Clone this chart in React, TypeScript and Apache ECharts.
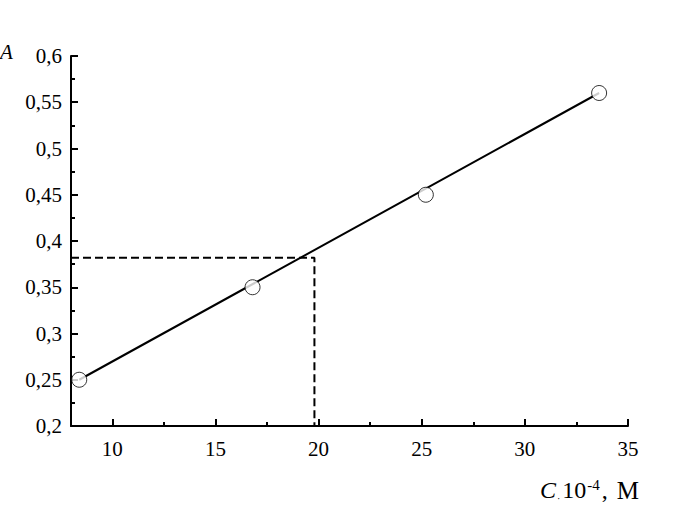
import React, { useEffect, useRef } from "react";
import * as echarts from "echarts";

const concentrations = [8.4, 16.8, 25.2, 33.6];
const absorbances = [0.25, 0.35, 0.45, 0.56];
const fitLine = [
  [8.4, 0.25],
  [33.6, 0.56],
];
const sampleX = 19.8;
const sampleA = 0.382;
const xMajorTicks = [10, 15, 20, 25, 30, 35];
const xMinorTicks = [12.5, 17.5, 22.5, 27.5, 32.5];

const FONT = "'Liberation Serif', 'DejaVu Serif', serif";

export default function App() {
  const ref = useRef<HTMLDivElement>(null);
  useEffect(() => {
    const chart = echarts.init(ref.current!, null, { renderer: "svg" });
    const axisCommon = {
      type: "value" as const,
      min: 8,
      max: 35,
    };
    chart.setOption({
      animation: false,
      backgroundColor: "#fff",
      grid: { left: 71, top: 56, right: 57, bottom: 83, containLabel: false },
      xAxis: [
        {
          ...axisCommon,
          axisLine: { show: true, onZero: false, lineStyle: { color: "#000", width: 2 } },
          axisTick: {
            show: true,
            inside: true,
            length: 7,
            customValues: xMajorTicks,
            lineStyle: { color: "#000", width: 2 },
          },
          axisLabel: {
            show: true,
            customValues: xMajorTicks,
            color: "#000",
            fontFamily: FONT,
            fontSize: 21,
            margin: 12,
          },
          splitLine: { show: false },
        },
        {
          ...axisCommon,
          position: "bottom",
          axisLine: { show: false },
          axisTick: {
            show: true,
            inside: true,
            length: 4,
            customValues: xMinorTicks,
            lineStyle: { color: "#000", width: 2 },
          },
          axisLabel: { show: false },
          splitLine: { show: false },
        },
      ],
      yAxis: {
        type: "value",
        min: 0.2,
        max: 0.6,
        interval: 0.05,
        axisLine: { show: true, onZero: false, lineStyle: { color: "#000", width: 2 } },
        axisTick: { show: true, inside: true, length: 7, lineStyle: { color: "#000", width: 2 } },
        minorTick: { show: true, splitNumber: 2, length: 4, lineStyle: { color: "#000", width: 2 } },
        axisLabel: {
          color: "#000",
          fontFamily: FONT,
          fontSize: 21,
          margin: 9,
          formatter: (v: number) => String(+v.toFixed(2)).replace(".", ","),
        },
        splitLine: { show: false },
      },
      series: [
        {
          type: "line",
          data: [
            [8, sampleA],
            [sampleX, sampleA],
            [sampleX, 0.2],
          ],
          showSymbol: false,
          symbol: "none",
          lineStyle: { color: "#000", width: 2, type: [8, 4] },
          z: 1,
        },
        {
          type: "line",
          data: fitLine,
          showSymbol: false,
          symbol: "none",
          lineStyle: { color: "#000", width: 2 },
          z: 2,
        },
        {
          type: "scatter",
          data: concentrations.map((c, i) => [c, absorbances[i]]),
          symbol: "circle",
          symbolSize: 15,
          itemStyle: { color: "#fff", borderColor: "#000", borderWidth: 1 },
          z: 3,
        },
      ],
      graphic: [
        {
          type: "text",
          left: 0,
          top: 41,
          style: {
            text: "A",
            fontFamily: FONT,
            fontStyle: "italic",
            fontSize: 21,
            fill: "#000",
          },
        },
        {
          type: "text",
          left: 540,
          top: 477,
          style: {
            text: "{c|C}{d|·}{n|10}{s|-4}{n|,}{m|М}",
            fill: "#000",
            rich: {
              c: { fontFamily: FONT, fontStyle: "italic", fontSize: 24, fill: "#000" },
              d: { fontFamily: FONT, fontSize: 10, fill: "#000", verticalAlign: "bottom", padding: [0, 2, 0, 1] },
              n: { fontFamily: FONT, fontSize: 24, fill: "#000" },
              s: { fontFamily: FONT, fontSize: 15, fill: "#000", verticalAlign: "top", padding: [0, 2, 11, 1] },
              m: { fontFamily: FONT, fontSize: 25, fill: "#000", padding: [0, 0, 0, 9] },
            },
          },
        },
      ],
    });
    return () => chart.dispose();
  }, []);
  return (
    <div
      ref={ref}
      style={{ position: "fixed", left: 0, top: 0, width: 685, height: 509 }}
    />
  );
}
